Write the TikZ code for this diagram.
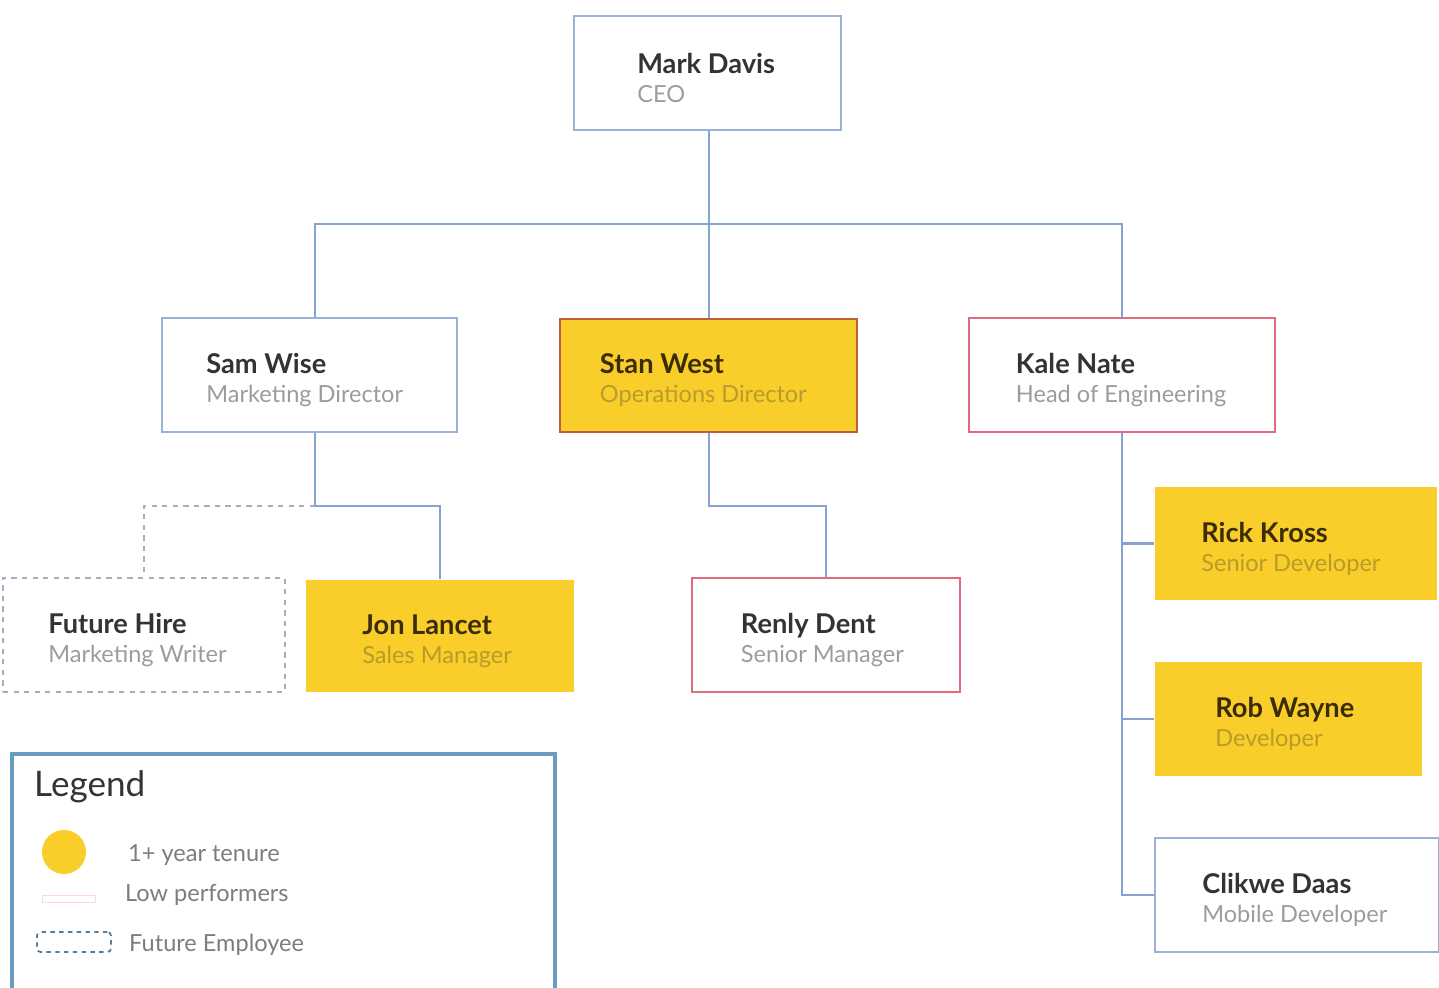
\documentclass[tikz,border=0pt]{standalone}
\usepackage{fontspec}
\setmainfont{Lato}
\usetikzlibrary{positioning}
\definecolor{tenure}{HTML}{F9CE2A}
\definecolor{boxblue}{HTML}{98B2D8}
\definecolor{linkblue}{HTML}{86A3CF}
\definecolor{lowred}{HTML}{E06A80}
\definecolor{stanred}{HTML}{BE5E3C}
\definecolor{dashgray}{HTML}{A4AEBC}
\definecolor{legblue}{HTML}{6A9CC2}
\definecolor{namegray}{HTML}{333333}
\definecolor{titlegray}{HTML}{9C9C9C}
\definecolor{namebrown}{HTML}{3A2C04}
\definecolor{titlegold}{HTML}{B99B2C}
\newcommand{\who}[2]{{\fontsize{15.5}{17}\selectfont\bfseries\color{namegray}#1}\\{\color{titlegray}#2}}
\newcommand{\whoy}[2]{{\fontsize{15.5}{17}\selectfont\bfseries\color{namebrown}#1}\\{\color{titlegold}#2}}

\begin{document}
\begin{tikzpicture}[x=0.02cm,y=-0.02cm,
    box/.style={draw=boxblue,line width=1.2pt,minimum height=2.28cm,inner sep=0pt},
    low/.style={box,draw=lowred,line width=1.6pt},
    old/.style={box,draw=none,fill=tenure},
    future/.style={box,draw=dashgray,dash pattern=on 3pt off 3pt},
    who/.style={align=left,inner sep=0pt,yshift=-0.1cm,font=\fontsize{13.4}{16.5}\selectfont},
    link/.style={draw=linkblue,line width=1.2pt}]
    \useasboundingbox (0,0) rectangle (1439,987);
    \clip (0,0) rectangle (1439,987);
    % helper grid
    % \draw[help lines,step=100] (0,0) grid (1439,987);
    % top
    \node[box,minimum width=5.34cm]                         (ceo)    at (707.5,73)   {};
    \node[who,right=1.28cm of ceo.west]                     (ceot)                   {\who{Mark Davis}{CEO}};
    % directors
    \node[box,minimum width=5.9cm]                          (sam)    at (309.5,375)  {};
    \node[box,draw=stanred,fill=tenure,line width=1.6pt,
          minimum width=5.94cm,minimum height=2.26cm]       (stan)   at (708.5,375.5) {};
    \node[low,minimum width=6.12cm]                         (kale)   at (1122,375)   {};
    \node[who,right=0.9cm of sam.west]                      (samt)                   {\who{Sam Wise}{Marketing Director}};
    \node[who,right=0.82cm of stan.west]                    (stant)                  {\whoy{Stan West}{Operations Director}};
    \node[who,right=0.96cm of kale.west]                    (kalet)                  {\who{Kale Nate}{Head of Engineering}};
    % staff
    \node[future,minimum width=5.64cm]                      (hire)   at (144,635)    {};
    \node[old,minimum width=5.36cm,minimum height=2.24cm]   (jon)    at (440,636)    {};
    \node[low,minimum width=5.36cm]                         (renly)  at (826,635)    {};
    \node[old,minimum width=5.64cm,minimum height=2.26cm]   (rick)   at (1296,543.5) {};
    \node[old,minimum width=5.34cm]                         (rob)    at (1288.5,719) {};
    \node[box,minimum width=5.68cm]                         (clikwe) at (1297,895)   {};
    \node[who,right=0.92cm of hire.west]                    (hiret)                  {\who{Future Hire}{Marketing Writer}};
    \node[who,right=1.14cm of jon.west]                     (jont)                   {\whoy{Jon Lancet}{Sales Manager}};
    \node[who,right=1.0cm of renly.west]                    (renlyt)                 {\who{Renly Dent}{Senior Manager}};
    \node[who,right=0.94cm of rick.west]                    (rickt)                  {\whoy{Rick Kross}{Senior Developer}};
    \node[who,right=1.22cm of rob.west]                     (robt)                   {\whoy{Rob Wayne}{Developer}};
    \node[who,right=0.96cm of clikwe.west]                  (clikwet)                {\who{Clikwe Daas}{Mobile Developer}};
    % links
    \coordinate (bus)      at (709,224);
    \coordinate (samfork)  at (315,506);
    \coordinate (stanfork) at (709,506);
    \path[link] (bus |- ceo.south) -- (bus |- stan.north)
                (samfork |- sam.north) |- (bus) -| (kale.north)
                (samfork |- sam.south) -- (samfork) -| (jon.north)
                (stanfork |- stan.south) -- (stanfork) -| (renly.north)
                (kale.south) |- (rick.west)
                (kale.south) |- (rob.west)
                (kale.south) |- (clikwe.west);
    \draw[draw=dashgray,line width=1.2pt,dash pattern=on 3pt off 3pt] (samfork) -| (hire.north);
    % legend
    \draw[draw=legblue,line width=1.8pt] (12,754) rectangle (555,1010);
    \node[anchor=west,font=\fontsize{20}{24}\selectfont,text=namegray] (legt) at (28,787) {Legend};
    \node[circle,fill=tenure,minimum size=0.88cm,inner sep=0pt]  (dot)  at (64,852)  {};
    \node[draw=pink!60,minimum width=1.06cm,minimum height=0.14cm,inner sep=0pt] (lowkey) at (68.5,899) {};
    \node[draw=legblue!80!black,dash pattern=on 2.5pt off 2.5pt,rounded corners=2pt,line width=1pt,
          minimum width=1.48cm,minimum height=0.4cm,inner sep=0pt] (futkey) at (74,942) {};
    \node[anchor=west,font=\fontsize{13.4}{16}\selectfont,text=titlegray!80!black] (dott)  at (122,855) {1+ year tenure};
    \node[anchor=west,font=\fontsize{13.4}{16}\selectfont,text=titlegray!80!black] (lowt)  at (119,895) {Low performers};
    \node[anchor=west,font=\fontsize{13.4}{16}\selectfont,text=titlegray!80!black] (futt)  at (123,945) {Future Employee};
\end{tikzpicture}
\end{document}
